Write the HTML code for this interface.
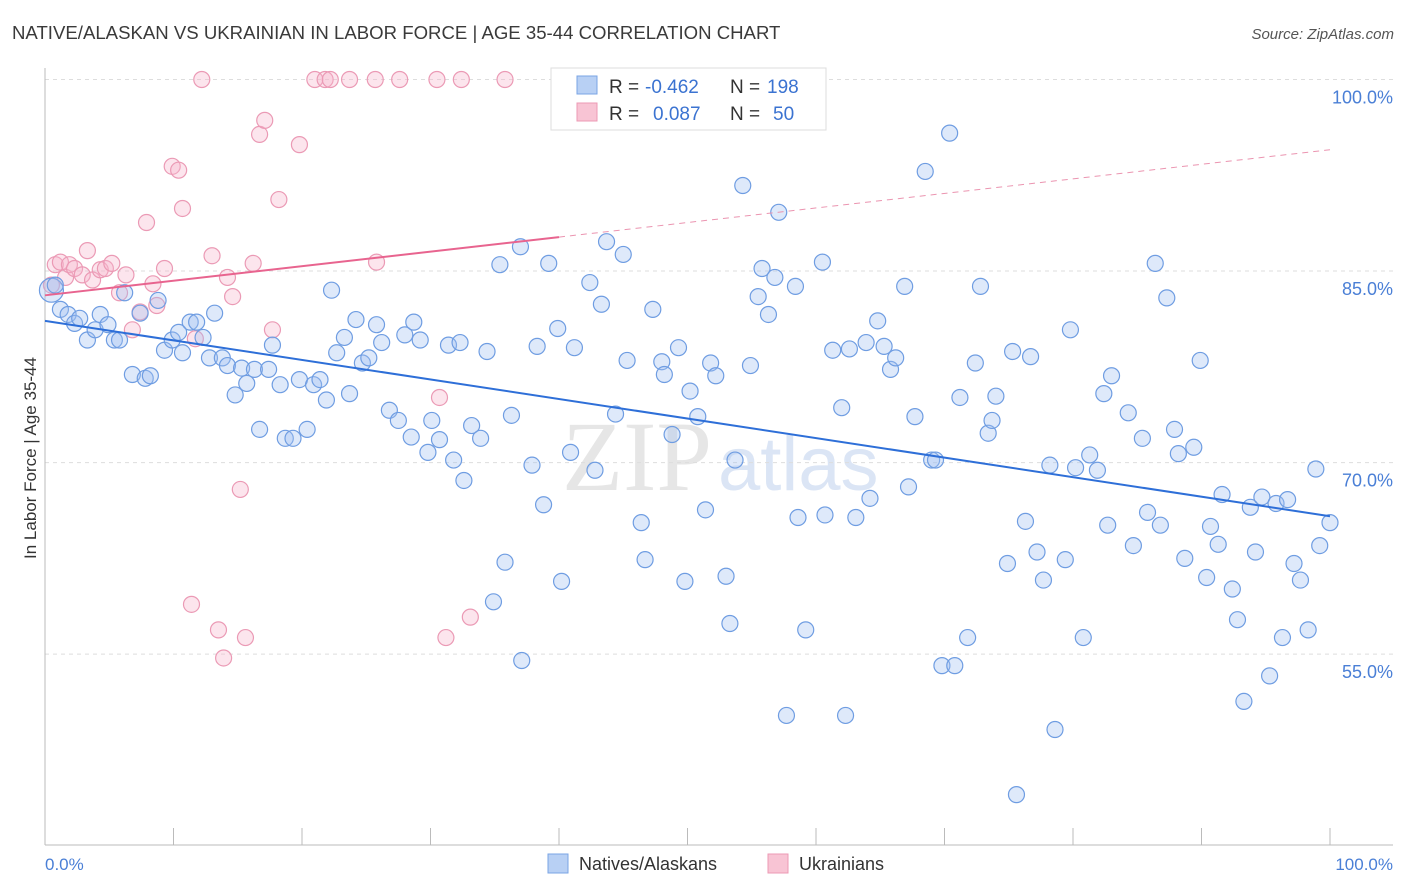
<!DOCTYPE html>
<html><head><meta charset="utf-8"><style>
body{margin:0;background:#fff;font-family:"Liberation Sans",sans-serif;}
#wrap{position:relative;width:1406px;height:892px;overflow:hidden;}
</style></head><body>
<div id="wrap">
<svg id="svg" width="1406" height="892" xmlns="http://www.w3.org/2000/svg">
<text x="12" y="39" font-size="18.6" fill="#3a3a3a">NATIVE/ALASKAN VS UKRAINIAN IN LABOR FORCE | AGE 35-44 CORRELATION CHART</text>
<text x="1394" y="39" font-size="15" fill="#555" font-style="italic" text-anchor="end">Source: ZipAtlas.com</text>
<text x="712" y="490" font-size="100" fill="#e6e6e6" text-anchor="end" font-family="Liberation Serif">ZIP</text>
<text x="718" y="490" font-size="76" fill="#dbe5f5">atlas</text>
<text x="36" y="458" font-size="17" fill="#333" text-anchor="middle" transform="rotate(-90 36 458)">In Labor Force | Age 35-44</text>
<g id="grid"></g><g id="pts"></g><g id="trend"></g>
<text x="45" y="870" font-size="17" fill="#4a7fd6">0.0%</text>
<text x="1393" y="870" font-size="17" fill="#4a7fd6" text-anchor="end">100.0%</text>
<g>
<rect x="551" y="68" width="275" height="62" fill="#fff" stroke="#ddd"/>
<rect x="577" y="76" width="20" height="18" fill="#b8d0f4" stroke="#7aa4e4"/>
<rect x="577" y="103" width="20" height="18" fill="#f8c4d4" stroke="#ec9ab4"/>
<text x="609" y="93" font-size="19" fill="#333">R =</text>
<text x="645" y="93" font-size="19" fill="#3b73d1">-0.462</text>
<text x="730" y="93" font-size="19" fill="#333">N =</text>
<text x="767" y="93" font-size="19" fill="#3b73d1">198</text>
<text x="609" y="120" font-size="19" fill="#333">R =</text>
<text x="653" y="120" font-size="19" fill="#3b73d1">0.087</text>
<text x="730" y="120" font-size="19" fill="#333">N =</text>
<text x="773" y="120" font-size="19" fill="#3b73d1">50</text>
</g>
<g>
<rect x="548" y="854" width="20" height="19" fill="#b8d0f4" stroke="#7aa4e4"/>
<text x="579" y="870" font-size="18" fill="#333">Natives/Alaskans</text>
<rect x="768" y="854" width="20" height="19" fill="#f8c4d4" stroke="#ec9ab4"/>
<text x="799" y="870" font-size="18" fill="#333">Ukrainians</text>
</g>
</svg>
</div>
<script>
const blueX=[0.5,0.8,1.2,1.8,2.3,2.7,3.3,3.9,4.3,4.9,5.4,5.8,6.2,6.8,7.4,7.8,8.2,8.8,9.3,9.9,10.4,10.7,11.3,11.8,12.3,12.8,13.2,13.8,14.2,14.8,15.3,15.7,16.3,16.7,17.4,17.7,18.3,18.7,19.3,19.8,20.4,20.9,21.4,21.9,22.3,22.7,23.3,23.7,24.2,24.7,25.2,25.8,26.2,26.8,27.5,28.0,28.5,28.7,29.2,29.8,30.1,30.7,31.4,31.8,32.3,32.6,33.2,33.9,34.4,34.9,35.4,35.8,36.3,37.0,37.1,37.9,38.3,38.8,39.2,39.9,40.2,40.9,41.2,42.4,42.8,43.3,43.7,44.4,45.0,45.3,46.4,46.7,47.3,48.0,48.2,48.8,49.3,49.8,50.2,50.8,51.4,51.8,52.2,53.0,53.3,53.7,54.3,54.9,55.5,55.8,56.3,56.8,57.1,57.7,58.4,58.6,59.2,60.5,60.7,61.3,62.0,62.3,62.6,63.1,63.9,64.2,64.8,65.3,65.8,66.2,66.9,67.2,67.7,68.5,69.0,69.3,69.8,70.4,70.8,71.2,71.8,72.4,72.8,73.4,73.7,74.0,74.9,75.3,75.6,76.3,76.7,77.2,77.7,78.2,78.6,79.4,79.8,80.2,80.8,81.3,81.9,82.4,82.7,83.0,84.3,84.7,85.4,85.8,86.4,86.8,87.3,87.9,88.2,88.7,89.4,89.9,90.4,90.7,91.3,91.6,92.4,92.8,93.3,93.8,94.2,94.7,95.3,95.8,96.3,96.7,97.2,97.7,98.3,98.9,99.2,100,60.1];
const blueY=[83.5,83.9,82.0,81.6,80.9,81.3,79.6,80.4,81.6,80.8,79.6,79.6,83.3,76.9,81.7,76.6,76.8,82.7,78.8,79.6,80.2,78.6,81.0,81.0,79.8,78.2,81.7,78.2,77.6,75.3,77.4,76.2,77.3,72.6,77.3,79.2,76.1,71.9,71.9,76.5,72.6,76.1,76.5,74.9,83.5,78.6,79.8,75.4,81.2,77.8,78.2,80.8,79.4,74.1,73.3,80.0,72.0,81.0,79.6,70.8,73.3,71.8,79.2,70.2,79.4,68.6,72.9,71.9,78.7,59.1,85.5,62.2,73.7,86.9,54.5,69.8,79.1,66.7,85.6,80.5,60.7,70.8,79.0,84.1,69.4,82.4,87.3,73.8,86.3,78.0,65.3,62.4,82.0,77.9,76.9,72.2,79.0,60.7,75.6,73.6,66.3,77.8,76.8,61.1,57.4,70.2,91.7,77.6,83.0,85.2,81.6,84.5,89.6,50.2,83.8,65.7,56.9,85.7,65.9,78.8,74.3,50.2,78.9,65.7,79.4,67.2,81.1,79.1,77.3,78.2,83.8,68.1,73.6,92.8,70.2,70.2,54.1,95.8,54.1,75.1,56.3,77.8,83.8,72.3,73.3,75.2,62.1,78.7,44.0,65.4,78.3,63.0,60.8,69.8,49.1,62.4,80.4,69.6,56.3,70.6,69.4,75.4,65.1,76.8,73.9,63.5,71.9,66.1,85.6,65.1,82.9,72.6,70.7,62.5,71.2,78.0,61.0,65.0,63.6,67.5,60.1,57.7,51.3,66.5,63.0,67.3,53.3,66.8,56.3,67.1,62.1,60.8,56.9,69.5,63.5,65.3,100.1];
const pinkX=[0.5,0.8,1.2,1.6,1.9,2.3,2.9,3.3,3.7,4.3,4.7,5.2,5.8,6.3,6.8,7.4,7.9,8.4,8.7,9.3,9.9,10.4,10.7,11.4,11.7,12.2,13.0,13.5,13.9,14.2,14.6,15.2,15.6,16.2,16.7,17.1,17.7,18.2,19.8,21.0,21.8,22.2,23.7,25.7,25.8,27.6,30.5,30.7,31.2,32.4,33.1,35.8];
const pinkY=[83.9,85.5,85.7,84.5,85.5,85.2,84.7,86.6,84.3,85.1,85.2,85.6,83.3,84.7,80.4,81.8,88.8,84.0,82.3,85.2,93.2,92.9,89.9,58.9,79.7,100,86.2,56.9,54.7,84.5,83.0,67.9,56.3,85.6,95.7,96.8,80.4,90.6,94.9,100,100,100,100,100,85.7,100,100,75.1,56.3,100,57.9,100];
const blueTrend=[81.1,65.8];
const pinkTrend=[83.1,94.5];
const pinkSolidEnd=40;
const yTicks=[100,85,70,55];
const xTicks=[0,10,20,30,40,50,60,70,80,90,100];
const NS="http://www.w3.org/2000/svg";
const X=v=>45+v*12.85, Y=v=>79.5+(100-v)*12.77;
function mk(t,a,p){const e=document.createElementNS(NS,t);for(const k in a)e.setAttribute(k,a[k]);p.appendChild(e);return e;}
const g=document.getElementById('grid');
yTicks.forEach(v=>{
 const l=mk('line',{x1:45,x2:1393,y1:Y(v),y2:Y(v),stroke:'#ddd','stroke-dasharray':'4 4'},g);
 
 
 const t=mk('text',{x:1393,y:Y(v)+24,'font-size':18,fill:'#4a7fd6','text-anchor':'end'},g);t.textContent=v.toFixed(1)+'%';
 
 
});
const ax=mk('line',{x1:45,x2:1393,y1:845,y2:845,stroke:'#bbb'},g);


const ay=mk('line',{x1:45,x2:45,y1:68,y2:845,stroke:'#bbb'},g);


xTicks.forEach(v=>{const t=mk('line',{x1:X(v),x2:X(v),y1:828,y2:845,stroke:'#bbb'},g);
 
 });
const p=document.getElementById('pts');
pinkX.forEach((x,i)=>{const c=mk('circle',{cx:X(x),cy:Y(pinkY[i]),r:8,fill:'rgba(246,180,202,0.35)',stroke:'#eb9ab5','stroke-width':1.2},p);
 
 });
blueX.forEach((x,i)=>{const c=mk('circle',{cx:X(x),cy:Y(blueY[i]),r:i===0?12:8,fill:'rgba(160,192,240,0.35)',stroke:'#6f9de2','stroke-width':1.2},p);
 
 });
const tr=document.getElementById('trend');
const pv=x=>pinkTrend[0]+(pinkTrend[1]-pinkTrend[0])*x/100;
const bl=mk('line',{x1:X(0),y1:Y(blueTrend[0]),x2:X(100),y2:Y(blueTrend[1]),stroke:'#2e6fd8','stroke-width':2},tr);


const ps=mk('line',{x1:X(0),y1:Y(pv(0)),x2:X(pinkSolidEnd),y2:Y(pv(pinkSolidEnd)),stroke:'#e8648f','stroke-width':2},tr);


const pd=mk('line',{x1:X(pinkSolidEnd),y1:Y(pv(pinkSolidEnd)),x2:X(100),y2:Y(pv(100)),stroke:'#eb94b0','stroke-width':1,'stroke-dasharray':'6 5'},tr);


</script>
</body></html>
